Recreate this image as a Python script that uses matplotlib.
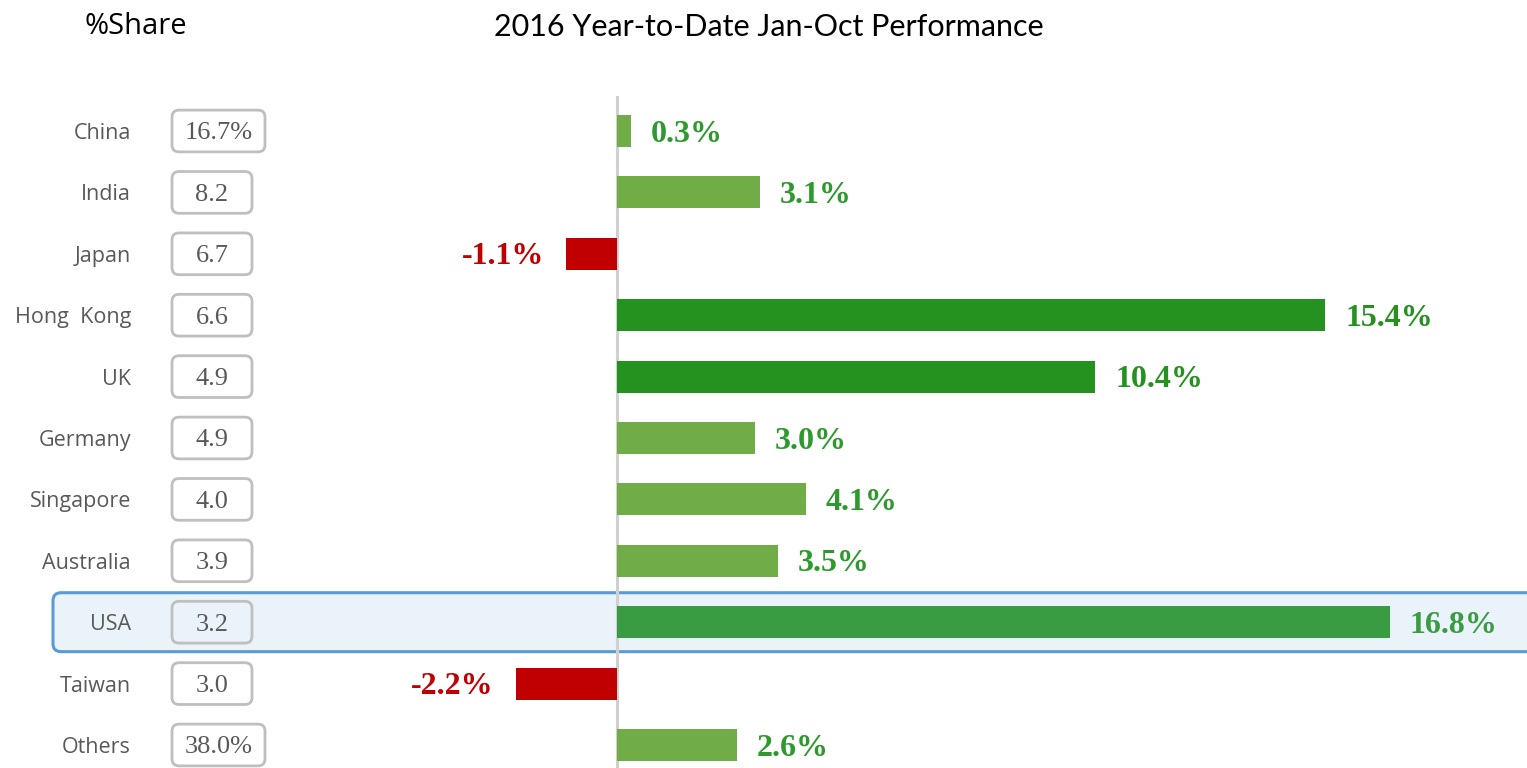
import matplotlib
matplotlib.use('Agg')
import matplotlib.pyplot as plt
from matplotlib.patches import FancyBboxPatch

countries = ['China', 'India', 'Japan', 'Hong  Kong', 'UK', 'Germany',
             'Singapore', 'Australia', 'USA', 'Taiwan', 'Others']
shares = ['16.7%', '8.2', '6.7', '6.6', '4.9', '4.9', '4.0', '3.9', '3.2', '3.0', '38.0%']
perf = [0.3, 3.1, -1.1, 15.4, 10.4, 3.0, 4.1, 3.5, 16.8, -2.2, 2.6]
highlight = 'USA'

# colours
light_green = '#70AD47'
dark_green = '#25921F'
usa_green = '#3A9C42'
red = '#C00000'
bar_colors = [light_green, light_green, red, dark_green, dark_green, light_green,
              light_green, light_green, usa_green, red, light_green]
label_colors = ['#2E9A2E' if v > 0 else red for v in perf]
label_colors[3] = dark_green
label_colors[4] = dark_green
label_colors[8] = usa_green

W, H = 1527, 768
fig = plt.figure(figsize=(W / 100, H / 100), dpi=100)
ax = fig.add_axes([0, 0, 1, 1])

# pixel layout -> data units
x0 = 617.0      # zero line
sx = 46.0       # px per %
y0 = 131.0      # first row centre
sy = 61.4       # px per row
ax.set_xlim(-x0 / sx, (W - x0) / sx)
ax.set_ylim((H - y0) / sy, -y0 / sy)
ax.axis('off')

def px(x):
    return (x - x0) / sx

def py(y):
    return (y - y0) / sy

rows = list(range(len(countries)))

# highlight band for USA
hi = countries.index(highlight)
band = FancyBboxPatch((px(53), hi - 0.48), px(1560) - px(53), 0.96,
                      boxstyle='round,pad=0,rounding_size=%f' % (8 / sx),
                      mutation_aspect=sx / sy,
                      facecolor='#EAF2FA', edgecolor='#5B9BD5', lw=2.2, zorder=1)
ax.add_patch(band)

# zero line
ax.plot([0, 0], [py(97), py(770)], color='#D0D0D0', lw=2.2, zorder=2)

# bars
ax.barh(rows, perf, height=0.52, color=bar_colors, zorder=3)

for i, v in enumerate(perf):
    if v >= 0:
        ax.text(v + 20 / sx, i + 0.05, '%.1f%%' % v, ha='left', va='center',
                family='Liberation Serif', fontweight='bold', fontsize=23,
                color=label_colors[i], zorder=4)
    else:
        ax.text(v - 22 / sx, i + 0.05, '%.1f%%' % v, ha='right', va='center',
                family='Liberation Serif', fontweight='bold', fontsize=23,
                color=label_colors[i], zorder=4)

# country names + share boxes
for i, (c, s) in enumerate(zip(countries, shares)):
    ax.text(px(131), i + 0.04, c, ha='right', va='center', family='Open Sans',
            fontsize=15.5, color='#595959', zorder=4)
    bw = 93 if '%' in s else 80
    box = FancyBboxPatch((px(172), i - 0.34), bw / sx, 0.68,
                         boxstyle='round,pad=0,rounding_size=%f' % (7 / sx),
                         mutation_aspect=sx / sy,
                         facecolor='none', edgecolor='#BFBFBF', lw=2, zorder=4)
    ax.add_patch(box)
    ax.text(px(172 + bw / 2), i + 0.04, s, ha='center', va='center',
            family='Liberation Serif', fontsize=19, color='#595959', zorder=5)

# titles
fig.text(85 / W, 1 - 27 / H, '%Share', ha='left', va='center',
         family='Open Sans', fontsize=21, color='black')
fig.text(769 / W, 1 - 27 / H, '2016 Year-to-Date Jan-Oct Performance',
         ha='center', va='center', family='Lato', fontsize=22, color='black')

fig.savefig('out.png', dpi=100)
